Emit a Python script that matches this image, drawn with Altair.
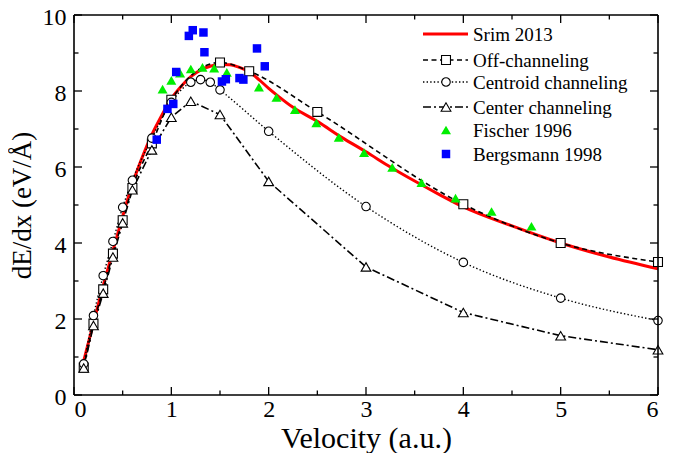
import altair as alt
import pandas as pd

FONT = "Liberation Serif"

# ---------------- data ----------------
srim_x = [0.1, 0.2, 0.3, 0.4, 0.5, 0.6, 0.7, 0.8, 0.9, 1.0, 1.1, 1.2, 1.3, 1.4, 1.5, 1.6, 1.7, 1.8,
          1.9, 2.0, 2.1, 2.25, 2.5, 2.75, 3.0, 3.25, 3.5, 3.75, 4.0, 4.5, 5.0, 5.5, 6.0]
srim_y = [0.9, 1.9, 2.87, 3.8, 4.7, 5.55, 6.25, 6.85, 7.35, 7.8, 8.12, 8.38, 8.55, 8.65, 8.7, 8.69, 8.62, 8.5,
          8.3, 8.07, 7.86, 7.57, 7.2, 6.78, 6.4, 6.0, 5.63, 5.28, 4.95, 4.45, 4.0, 3.63, 3.32]

off_x = [0.1, 0.2, 0.3, 0.4, 0.5, 0.6, 0.8, 1.0, 1.5, 1.8, 2.5, 4.0, 5.0, 6.0]
off_y = [0.72, 1.88, 2.78, 3.72, 4.6, 5.45, 6.62, 7.77, 8.75, 8.52, 7.45, 5.02, 4.0, 3.5]

centroid_x = [0.1, 0.2, 0.3, 0.4, 0.5, 0.6, 0.8, 1.0, 1.2, 1.3, 1.4, 1.5, 2.0, 3.0, 4.0, 5.0, 6.0]
centroid_y = [0.82, 2.09, 3.14, 4.04, 4.94, 5.65, 6.76, 7.7, 8.23, 8.3, 8.23, 8.03, 6.94, 4.96, 3.49, 2.55, 1.96]

center_x = [0.1, 0.2, 0.3, 0.4, 0.5, 0.6, 0.8, 1.0, 1.2, 1.5, 2.0, 3.0, 4.0, 5.0, 6.0]
center_y = [0.71, 1.83, 2.68, 3.63, 4.53, 5.4, 6.45, 7.31, 7.73, 7.38, 5.62, 3.37, 2.17, 1.56, 1.19]

fischer_x = [0.91, 1.0, 1.09, 1.2, 1.32, 1.44, 1.57, 1.9, 2.08, 2.27, 2.49, 2.72, 2.98, 3.27,
             3.57, 3.92, 4.29, 4.7]
fischer_y = [8.05, 8.28, 8.47, 8.58, 8.62, 8.6, 8.49, 8.1, 7.83, 7.51, 7.16, 6.78, 6.38, 5.99,
             5.59, 5.18, 4.83, 4.44]

bergs_x = [0.85, 0.96, 1.02, 1.05, 1.18, 1.22, 1.33, 1.34, 1.52, 1.56, 1.7, 1.74, 1.88, 1.96]
bergs_y = [6.72, 7.53, 7.66, 8.5, 9.45, 9.6, 9.54, 9.02, 8.25, 8.31, 8.34, 8.3, 9.12, 8.65]

x_major = [0, 1, 2, 3, 4, 5, 6]
x_minor = [0.5, 1.5, 2.5, 3.5, 4.5, 5.5]
y_major = [0, 2, 4, 6, 8, 10]
y_minor = [1, 3, 5, 7, 9]

legend_names = ["Srim 2013", "Off-channeling", "Centroid channeling", "Center channeling",
                "Fischer 1996", "Bergsmann 1998"]

W, H = 584, 380

xs = alt.Scale(domain=[0, 6], nice=False, zero=False)
ys = alt.Scale(domain=[0, 10], nice=False, zero=False)

def df(x, y):
    return pd.DataFrame({"x": x, "y": y})

X = alt.X("x:Q", scale=xs, axis=alt.Axis(
    values=x_major, format="d", title="Velocity (a.u.)", grid=False, ticks=False, domain=False,
    labelFont=FONT, labelFontSize=24, labelColor="black", labelPadding=2,
    titleFont=FONT, titleFontSize=30, titleFontWeight="normal", titleColor="black", titlePadding=2))
Y = alt.Y("y:Q", scale=ys, axis=alt.Axis(
    values=y_major, format="d", title="dE/dx (eV/Å)", grid=False, ticks=False, domain=False,
    labelFont=FONT, labelFontSize=24, labelColor="black", labelPadding=8, labelOffset=2,
    titleFont=FONT, titleFontSize=27, titleFontWeight="normal", titleColor="black", titlePadding=6))

Xn = alt.X("x:Q", scale=xs)
Yn = alt.Y("y:Q", scale=ys)

# ---------------- styles ----------------
DASH_OFF = [5, 3.5]
DASH_CEN = [1.4, 2.2]
DASH_CTR = [8, 3, 2, 3]
GREEN = "#00ee00"
BLUE = "#0000ff"
RED = "#ff0000"

SQ_OPEN = dict(shape="square", size=80, filled=True, fill="white", stroke="black", strokeWidth=1.1, opacity=1)
CI_OPEN = dict(shape="circle", size=72, filled=True, fill="white", stroke="black", strokeWidth=1.1, opacity=1)
TR_OPEN = dict(shape="triangle-up", size=95, filled=True, fill="white", stroke="black", strokeWidth=1.1, opacity=1)
TR_GREEN = dict(shape="triangle-up", size=100, filled=True, color=GREEN, opacity=1)
SQ_BLUE = dict(shape="square", size=72, filled=True, color=BLUE, opacity=1)

layers = []

# SRIM line
layers.append(alt.Chart(df(srim_x, srim_y)).mark_line(color=RED, strokeWidth=3, interpolate="monotone")
              .encode(x=X, y=Y))
# Channeling lines
layers.append(alt.Chart(df(off_x, off_y)).mark_line(color="black", strokeWidth=1.6, strokeDash=DASH_OFF,
                                                    interpolate="monotone").encode(x=Xn, y=Yn))
layers.append(alt.Chart(df(centroid_x, centroid_y)).mark_line(color="black", strokeWidth=1.4, strokeDash=DASH_CEN,
                                                              interpolate="monotone").encode(x=Xn, y=Yn))
layers.append(alt.Chart(df(center_x, center_y)).mark_line(color="black", strokeWidth=1.6, strokeDash=DASH_CTR)
              .encode(x=Xn, y=Yn))
# open markers
layers.append(alt.Chart(df(off_x, off_y)).mark_point(**SQ_OPEN).encode(x=Xn, y=Yn))
layers.append(alt.Chart(df(centroid_x, centroid_y)).mark_point(**CI_OPEN).encode(x=Xn, y=Yn))
layers.append(alt.Chart(df(center_x, center_y)).mark_point(**TR_OPEN).encode(x=Xn, y=Yn))
# experiments
layers.append(alt.Chart(df(fischer_x, fischer_y)).mark_point(**TR_GREEN).encode(x=Xn, y=Yn))
layers.append(alt.Chart(df(bergs_x, bergs_y)).mark_point(**SQ_BLUE).encode(x=Xn, y=Yn))

# ---------------- frame + inward ticks on all four sides ----------------
one = pd.DataFrame({"a": [0]})
FW = 1.6
layers.append(alt.Chart(one).mark_rule(color="black", strokeWidth=FW).encode(
    x=alt.value(0), x2=alt.value(W), y=alt.value(0)))
layers.append(alt.Chart(one).mark_rule(color="black", strokeWidth=FW).encode(
    x=alt.value(0), x2=alt.value(W), y=alt.value(H)))
layers.append(alt.Chart(one).mark_rule(color="black", strokeWidth=FW).encode(
    y=alt.value(0), y2=alt.value(H), x=alt.value(0)))
layers.append(alt.Chart(one).mark_rule(color="black", strokeWidth=FW).encode(
    y=alt.value(0), y2=alt.value(H), x=alt.value(W)))

def xticks(vals, length):
    d = pd.DataFrame({"x": vals})
    bot = alt.Chart(d).mark_rule(color="black", strokeWidth=1.3).encode(
        x=Xn, y=alt.value(H), y2=alt.value(H - length))
    top = alt.Chart(d).mark_rule(color="black", strokeWidth=1.3).encode(
        x=Xn, y=alt.value(0), y2=alt.value(length))
    return [bot, top]

def yticks(vals, length):
    d = pd.DataFrame({"y": vals})
    left = alt.Chart(d).mark_rule(color="black", strokeWidth=1.3).encode(
        y=Yn, x=alt.value(0), x2=alt.value(length))
    right = alt.Chart(d).mark_rule(color="black", strokeWidth=1.3).encode(
        y=Yn, x=alt.value(W), x2=alt.value(W - length))
    return [left, right]

layers += xticks(x_major, 8) + xticks(x_minor, 4.5) + yticks(y_major, 8) + yticks(y_minor, 4.5)

# ---------------- legend (drawn inside plot) ----------------
row_y = [19, 45, 67, 92, 115, 139]
LX0, LX1, LXM, LTX = 349, 394, 372, 399

line_styles = [
    dict(color=RED, strokeWidth=3),
    dict(color="black", strokeWidth=1.6, strokeDash=DASH_OFF),
    dict(color="black", strokeWidth=1.4, strokeDash=DASH_CEN),
    dict(color="black", strokeWidth=1.6, strokeDash=DASH_CTR),
    None, None,
]
point_styles = [None, SQ_OPEN, CI_OPEN, TR_OPEN, TR_GREEN, SQ_BLUE]

for name, ry, ls, ps in zip(legend_names, row_y, line_styles, point_styles):
    if ls is not None:
        layers.append(alt.Chart(one).mark_rule(**ls).encode(
            x=alt.value(LX0), x2=alt.value(LX1), y=alt.value(ry)))
    if ps is not None:
        layers.append(alt.Chart(one).mark_point(**ps).encode(x=alt.value(LXM), y=alt.value(ry)))
    layers.append(alt.Chart(one).mark_text(align="left", baseline="middle", font=FONT, fontSize=19,
                                           color="black")
                  .encode(x=alt.value(LTX), y=alt.value(ry + 1), text=alt.value(name)))

chart = alt.layer(*layers).properties(
    width=W, height=H,
    autosize=alt.AutoSizeParams(type="none"),
    padding={"left": 66, "top": 7, "right": 16, "bottom": 58},
    view=alt.ViewBackground(stroke=None),
)

chart.save("out.html", embed_options={"renderer": "svg", "actions": False})
